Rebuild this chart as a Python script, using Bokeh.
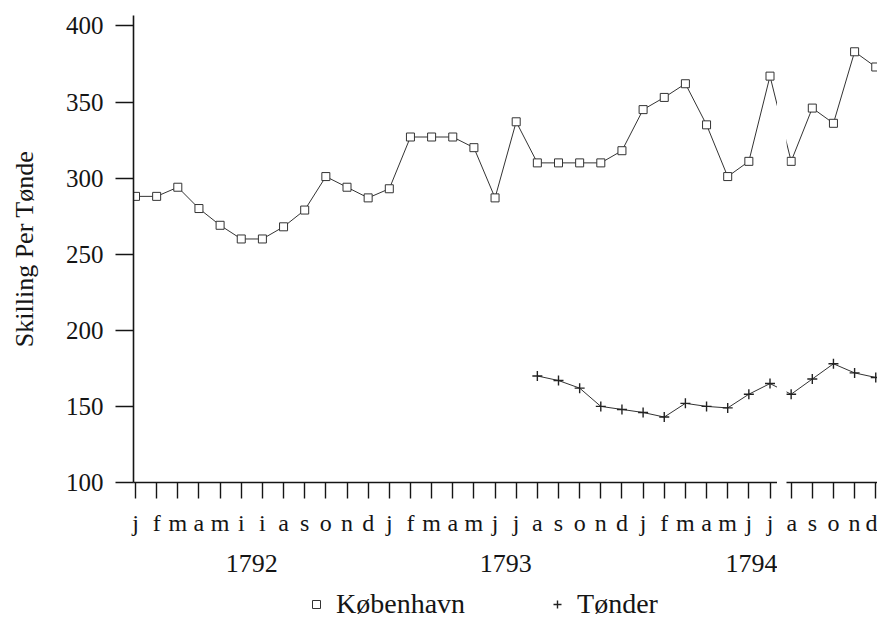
from bokeh.plotting import figure
from bokeh.layouts import row, column
from bokeh.models import FixedTicker, LinearAxis, Range1d, Legend, LegendItem
from bokeh.embed import file_html
from bokeh.resources import INLINE

# ---------------- data ----------------
months = ["j", "f", "m", "a", "m", "i", "i", "a", "s", "o", "n", "d",
          "j", "f", "m", "a", "m", "j", "j", "a", "s", "o", "n", "d",
          "j", "f", "m", "a", "m", "j", "j", "a", "s", "o", "n", "d"]
year_labels = ["1792", "1793", "1794"]
kobenhavn = [288, 288, 294, 280, 269, 260, 260, 268, 279, 301, 294, 287,
             293, 327, 327, 327, 320, 287, 337, 310, 310, 310, 310, 318,
             345, 353, 362, 335, 301, 311, 367, 311, 346, 336, 383, 373]
tonder_first_month = 19
tonder = [170, 167, 162, 150, 148, 146, 143, 152, 150, 149, 158, 165,
          158, 168, 178, 172, 169]
y_ticks = [100, 150, 200, 250, 300, 350, 400]
series_names = ["København", "Tønder"]

# ---------------- layout ----------------
FONT = "Liberation Serif"
INK = "#151515"
PX = 21.15           # pixels per month
FRAME_H = 467
LEFT_FRAME_W = 644
RIGHT_FRAME_W = 91
GAP = 9
LEFT = 133
TOP = 15
BOTTOM = 104
LEGEND_H = 34

x_idx = list(range(len(months)))
t_idx = list(range(tonder_first_month, tonder_first_month + len(tonder)))

y_range = Range1d(100, 100 + FRAME_H / 1.522)
x0 = -2 / PX
x1 = x0 + LEFT_FRAME_W / PX
x2 = x1 + GAP / PX
x3 = x2 + RIGHT_FRAME_W / PX

SQ = dict(marker="square", size=8, line_color="#333333", fill_color="white", line_width=1)
PL = dict(marker="cross", size=10, line_color="#222222", line_width=1.4)


def make_fig(xr, frame_w, left_border, with_y):
    p = figure(frame_width=frame_w, frame_height=FRAME_H, x_range=xr, y_range=y_range,
               output_backend="svg", toolbar_location=None,
               min_border_left=left_border, min_border_right=0,
               min_border_top=TOP, min_border_bottom=BOTTOM,
               y_axis_location="left" if with_y else None,
               background_fill_color="white", border_fill_color="white",
               outline_line_color=None)
    p.xgrid.visible = False
    p.ygrid.visible = False
    ax = p.xaxis[0]
    ax.ticker = FixedTicker(ticks=x_idx)
    ax.major_label_overrides = {i: m for i, m in enumerate(months)}
    ax.axis_line_color = INK
    ax.axis_line_width = 1.6
    ax.major_tick_line_color = INK
    ax.major_tick_line_width = 1.4
    ax.major_tick_out = 16
    ax.major_tick_in = 0
    ax.minor_tick_line_color = None
    ax.major_label_text_font = FONT
    ax.major_label_text_font_size = "24px"
    ax.major_label_text_color = INK
    ax.major_label_standoff = 11
    # series
    p.line(x_idx, kobenhavn, line_color="#333333", line_width=1)
    p.scatter(x_idx, kobenhavn, **SQ)
    p.line(t_idx, tonder, line_color="#333333", line_width=1)
    p.scatter(t_idx, tonder, **PL)
    return p


p1 = make_fig(Range1d(x0, x1), LEFT_FRAME_W, LEFT, True)
p2 = make_fig(Range1d(x2, x3), RIGHT_FRAME_W, 0, False)

ya = p1.yaxis[0]
ya.ticker = FixedTicker(ticks=y_ticks)
ya.axis_line_color = INK
ya.axis_line_width = 1.6
ya.major_tick_line_color = INK
ya.major_tick_line_width = 1.4
ya.major_tick_out = 18
ya.major_tick_in = 0
ya.minor_tick_line_color = None
ya.major_label_text_font = FONT
ya.major_label_text_font_size = "25px"
ya.major_label_text_color = INK
ya.major_label_standoff = 12
ya.axis_label = "Skilling Per Tønde"
ya.axis_label_text_font = FONT
ya.axis_label_text_font_size = "26px"
ya.axis_label_text_font_style = "normal"
ya.axis_label_text_color = INK
ya.axis_label_standoff = 24

year_axis = LinearAxis(ticker=FixedTicker(ticks=[5.5, 17.5, 29.5]),
                       major_label_overrides={5.5: year_labels[0], 17.5: year_labels[1],
                                              29.5: year_labels[2]},
                       axis_line_color=None, major_tick_line_color=None,
                       minor_tick_line_color=None, major_tick_out=0, major_tick_in=0,
                       major_label_text_font=FONT, major_label_text_font_size="26px",
                       major_label_text_color=INK, major_label_standoff=16)
p1.add_layout(year_axis, "below")

# legend strip underneath (its sample renderers hold one point outside the view)
total_w = LEFT + LEFT_FRAME_W + GAP + RIGHT_FRAME_W
p3 = figure(frame_width=total_w, frame_height=LEGEND_H, x_range=Range1d(0, total_w),
            y_range=Range1d(0, LEGEND_H), output_backend="svg", toolbar_location=None,
            min_border_left=0, min_border_right=0, min_border_top=0, min_border_bottom=0,
            x_axis_location=None, y_axis_location=None, outline_line_color=None,
            background_fill_color="white", border_fill_color="white")
p3.xgrid.visible = False
p3.ygrid.visible = False
lk = p3.scatter([kobenhavn[0]], [-1000], **SQ)
lt = p3.scatter([tonder[0]], [-1000], **PL)
legend = Legend(items=[LegendItem(label=series_names[0], renderers=[lk]),
                       LegendItem(label=series_names[1], renderers=[lt])],
                orientation="horizontal", location=(306, 0),
                label_text_font=FONT, label_text_font_size="28px", label_text_color=INK,
                glyph_width=20, glyph_height=20, label_standoff=10, spacing=82,
                padding=0, margin=0, border_line_color=None,
                background_fill_alpha=0)
p3.add_layout(legend)

layout = column(row(p1, p2, spacing=GAP), p3, spacing=0)
open("out.html", "w").write(file_html(layout, INLINE))
